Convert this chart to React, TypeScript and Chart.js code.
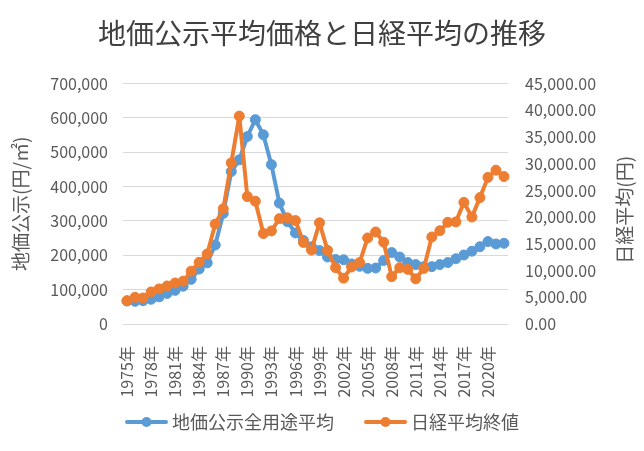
import React, { useEffect, useRef } from "react";
import { Chart, registerables } from "chart.js";

Chart.register(...registerables);

const years: number[] = [
  1975, 1976, 1977, 1978, 1979, 1980, 1981, 1982, 1983, 1984,
  1985, 1986, 1987, 1988, 1989, 1990, 1991, 1992, 1993, 1994,
  1995, 1996, 1997, 1998, 1999, 2000, 2001, 2002, 2003, 2004,
  2005, 2006, 2007, 2008, 2009, 2010, 2011, 2012, 2013, 2014,
  2015, 2016, 2017, 2018, 2019, 2020, 2021, 2022,
];
const categories: string[] = years.map((y) => `${y}年`);

const landPrice: number[] = [
  67000, 66000, 68000, 72000, 79000, 89000, 98000, 110000, 130000, 160000,
  178000, 230000, 322000, 444000, 478000, 546000, 595000, 551000, 464000, 352000,
  298000, 265000, 243000, 225000, 214000, 195000, 188000, 187000, 175000, 168000,
  162000, 163000, 185000, 208000, 195000, 179000, 173000, 167000, 167000, 173000,
  179000, 190000, 201000, 212000, 225000, 240000, 233000, 235000,
];

const nikkei: number[] = [
  4358.6, 4990.5, 4865.6, 6001.9, 6569.5, 7116.4, 7681.8, 8016.7, 9893.8, 11542.6,
  13113.3, 18701.3, 21564.0, 30159.0, 38915.9, 23848.7, 22983.8, 16925.0, 17417.2, 19723.1,
  19868.2, 19361.4, 15258.7, 13842.2, 18934.3, 13785.7, 10542.6, 8579.0, 10676.6, 11488.8,
  16111.4, 17225.8, 15307.8, 8859.6, 10546.4, 10228.9, 8455.4, 10395.2, 16291.3, 17450.8,
  19033.7, 19114.4, 22764.9, 20014.8, 23656.6, 27444.2, 28791.7, 27600.0,
];

const seriesNames: string[] = ["地価公示全用途平均", "日経平均終値"];
const chartTitle = "地価公示平均価格と日経平均の推移";
const leftAxisTitle = "地価公示(円/㎡)";
const rightAxisTitle = "日経平均(円)";

const BLUE = "#5B9BD5";
const ORANGE = "#ED7D31";
const TEXT = "#595959";
const FONT = "'Noto Sans CJK JP', 'Noto Sans', sans-serif";

const LEGEND_BOX = 38;

function makeLegendIcon(color: string): HTMLCanvasElement {
  // image is 5px wider than the legend box on each side; visible line spans 43px
  const c = document.createElement("canvas");
  c.width = LEGEND_BOX + 10;
  c.height = 14;
  const ctx = c.getContext("2d")!;
  ctx.strokeStyle = color;
  ctx.lineWidth = 4;
  ctx.lineCap = "round";
  ctx.beginPath();
  ctx.moveTo(5 + 2, 7);
  ctx.lineTo(5 + 41, 7);
  ctx.stroke();
  ctx.fillStyle = color;
  ctx.beginPath();
  ctx.arc(5 + 21.5, 7, 5, 0, Math.PI * 2);
  ctx.fill();
  return c;
}

export default function App() {
  const ref = useRef<HTMLCanvasElement | null>(null);

  useEffect(() => {
    document.body.style.margin = "0";
    if (!ref.current) return;
    const icons = [makeLegendIcon(BLUE), makeLegendIcon(ORANGE)];

    const rightTitlePlugin = {
      id: "rightTitle",
      afterLayout(chart: any) {
        const l = chart.legend;
        if (l) {
          l.top -= 16;
          l.bottom -= 16;
        }
      },
      afterDraw(chart: any) {
        const { ctx, chartArea } = chart;
        ctx.save();
        ctx.font = `19px ${FONT}`;
        ctx.fillStyle = TEXT;
        ctx.textAlign = "center";
        ctx.textBaseline = "middle";
        ctx.translate(625, (chartArea.top + chartArea.bottom) / 2 + 6);
        ctx.rotate(-Math.PI / 2);
        ctx.fillText(rightAxisTitle, 0, 0);
        ctx.restore();
      },
    };

    const chart = new Chart(ref.current, {
      type: "line",
      data: {
        labels: categories,
        datasets: [
          {
            label: seriesNames[0],
            data: landPrice,
            yAxisID: "y",
            borderColor: BLUE,
            backgroundColor: BLUE,
            pointBackgroundColor: BLUE,
            pointBorderColor: BLUE,
            borderWidth: 4,
            borderJoinStyle: "round",
            pointRadius: 5,
            pointBorderWidth: 1,
            tension: 0,
            order: 1,
          },
          {
            label: seriesNames[1],
            data: nikkei,
            yAxisID: "y1",
            borderColor: ORANGE,
            backgroundColor: ORANGE,
            pointBackgroundColor: ORANGE,
            pointBorderColor: ORANGE,
            borderWidth: 4,
            borderJoinStyle: "round",
            pointRadius: 5,
            pointBorderWidth: 1,
            tension: 0,
            order: 0,
          },
        ],
      },
      options: {
        responsive: false,
        animation: false,
        layout: { padding: { left: 0, right: 0, top: 0, bottom: -6 } },
        plugins: {
          title: {
            display: true,
            text: chartTitle,
            color: "#404040",
            font: { family: FONT, size: 28, weight: "normal" },
            padding: { top: 17, bottom: 33 },
          },
          legend: {
            position: "bottom",
            labels: {
              usePointStyle: true,
              pointStyleWidth: LEGEND_BOX,
              boxHeight: 14,
              padding: 30,
              color: TEXT,
              font: { family: FONT, size: 18 },
              sort: (a: any, b: any) => a.datasetIndex - b.datasetIndex,
              generateLabels: (c: any) => {
                const items = Chart.defaults.plugins.legend.labels.generateLabels(c);
                return items.map((it: any) => ({ ...it, pointStyle: icons[it.datasetIndex] }));
              },
            },
          },
          tooltip: { enabled: false },
        },
        scales: {
          x: {
            type: "category",
            offset: true,
            grid: { display: false },
            border: { display: false },
            ticks: {
              autoSkip: false,
              minRotation: 90,
              maxRotation: 90,
              padding: 14,
              color: TEXT,
              font: { family: FONT, size: 16 },
              callback: (_v: any, i: number) => (i % 3 === 0 ? categories[i] : ""),
            },
            afterFit: (s: any) => {
              s.height = 75;
            },
          },
          y: {
            position: "left",
            min: 0,
            max: 700000,
            grid: { color: "#D9D9D9", lineWidth: 1, drawTicks: false },
            border: { display: false },
            ticks: {
              stepSize: 100000,
              padding: 15,
              color: TEXT,
              font: { family: FONT, size: 16 },
              callback: (v: any) => Number(v).toLocaleString("en-US"),
            },
            title: {
              display: true,
              text: leftAxisTitle,
              color: TEXT,
              font: { family: FONT, size: 19 },
              padding: { top: 9, bottom: 0 },
            },
            afterFit: (s: any) => {
              s.width = 123;
            },
          },
          y1: {
            position: "right",
            min: 0,
            max: 45000,
            grid: { display: false, drawTicks: false },
            border: { display: false },
            ticks: {
              stepSize: 5000,
              padding: 17,
              color: TEXT,
              font: { family: FONT, size: 16 },
              callback: (v: any) =>
                Number(v).toLocaleString("en-US", { minimumFractionDigits: 2, maximumFractionDigits: 2 }),
            },
            afterFit: (s: any) => {
              s.width = 136;
            },
          },
        },
      } as any,
      plugins: [rightTitlePlugin],
    });
    return () => chart.destroy();
  }, []);

  return (
    <div style={{ width: 644, height: 451, background: "#fff" }}>
      <canvas ref={ref} width={644} height={451} style={{ display: "block" }} />
    </div>
  );
}
